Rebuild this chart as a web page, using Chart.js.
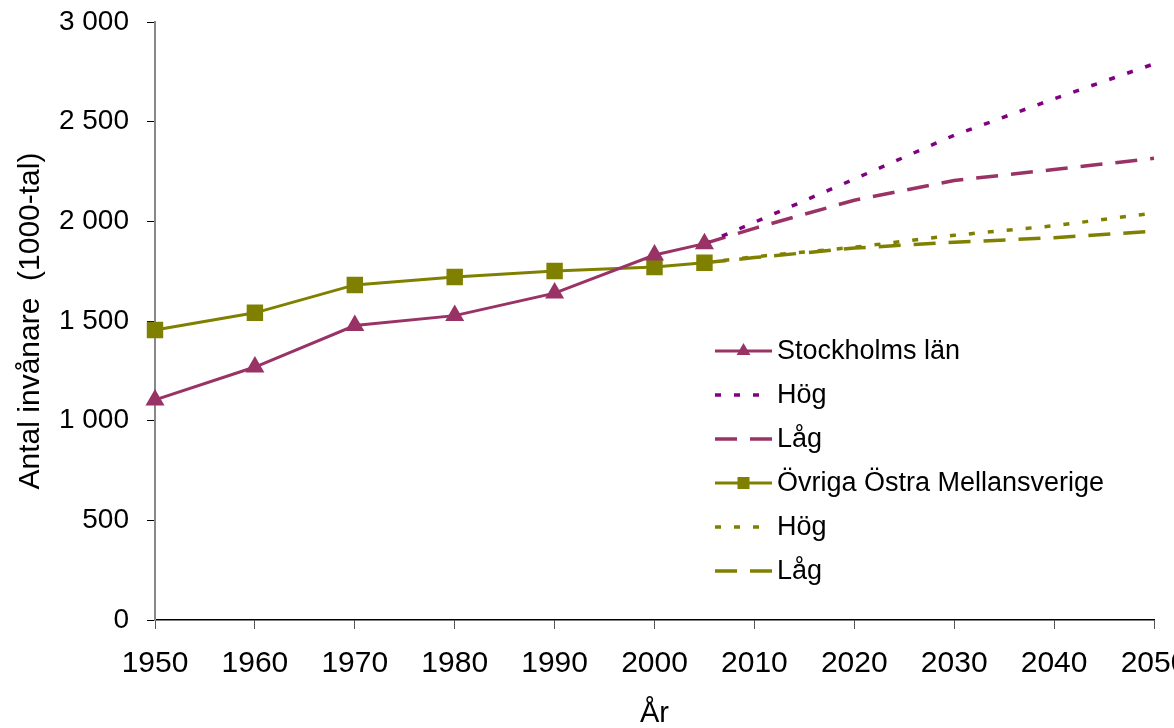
<!DOCTYPE html>
<html>
<head>
<meta charset="utf-8">
<script src="https://cdn.jsdelivr.net/npm/chart.js@4"></script>
<style>
  html, body { margin: 0; padding: 0; background: #fff; overflow: hidden; }
  #wrap { width: 1174px; height: 728px; overflow: hidden; position: relative; }
  #c { display: block; }
</style>
</head>
<body>
<div id="wrap"><canvas id="c" width="1200" height="728"></canvas></div>
<script>
// ---- data ----
const histYears = [1950, 1960, 1970, 1980, 1990, 2000, 2005];
const projYears = [2005, 2010, 2020, 2030, 2040, 2050];

const stockholm     = [1104, 1269, 1477, 1527, 1640, 1831, 1888];
const stockholmHog  = [1888, 1995, 2212, 2432, 2615, 2790];
const stockholmLag  = [1888, 1965, 2106, 2205, 2260, 2316];

const ovriga        = [1455, 1541, 1681, 1721, 1751, 1771, 1792];
const ovrigaHog     = [1792, 1822, 1870, 1930, 1978, 2042];
const ovrigaLag     = [1792, 1818, 1866, 1895, 1918, 1950];

const seriesNames = ['Stockholms län', 'Hög', 'Låg', 'Övriga Östra Mellansverige', 'Hög', 'Låg'];
const yTicks = [0, 500, 1000, 1500, 2000, 2500, 3000];
const xTicks = [1950, 1960, 1970, 1980, 1990, 2000, 2010, 2020, 2030, 2040, 2050];

// ---- styles ----
const C_STH = '#993366';
const C_HOG = '#800080';
const C_OVR = '#808000';
const FONT = '"Liberation Sans", Arial, sans-serif';

const pts = (xs, ys) => xs.map((x, i) => ({ x: x, y: ys[i] }));
const fmt = v => v >= 1000 ? Math.floor(v / 1000) + ' ' + String(v % 1000).padStart(3, '0') : String(v);

const styles = [
  { color: C_STH, dash: [], point: 'triangle' },
  { color: C_HOG, dash: [6, 13], point: false },
  { color: C_STH, dash: [22, 13], point: false },
  { color: C_OVR, dash: [], point: 'rect' },
  { color: C_OVR, dash: [6, 13], point: false },
  { color: C_OVR, dash: [22, 13], point: false },
];

const datasets = [
  { label: seriesNames[0], data: pts(histYears, stockholm), borderColor: C_STH, backgroundColor: C_STH,
    borderWidth: 3, pointStyle: 'triangle', pointRadius: 8, pointHoverRadius: 8, order: 1 },
  { label: seriesNames[1], data: pts(projYears, stockholmHog), borderColor: C_HOG,
    borderWidth: 3.5, borderDash: [6, 13], pointRadius: 0, order: 3 },
  { label: seriesNames[2], data: pts(projYears, stockholmLag), borderColor: C_STH,
    borderWidth: 3.5, borderDash: [22, 13], pointRadius: 0, order: 3 },
  { label: seriesNames[3], data: pts(histYears, ovriga), borderColor: C_OVR, backgroundColor: C_OVR,
    borderWidth: 3, pointStyle: 'rect', pointRadius: 9.5, pointHoverRadius: 9.5, order: 2 },
  { label: seriesNames[4], data: pts(projYears, ovrigaHog), borderColor: C_OVR,
    borderWidth: 3.5, borderDash: [6, 13], pointRadius: 0, order: 3 },
  { label: seriesNames[5], data: pts(projYears, ovrigaLag), borderColor: C_OVR,
    borderWidth: 3.5, borderDash: [22, 13], pointRadius: 0, order: 3 },
];
datasets.forEach(d => { d.fill = false; d.tension = 0; d.clip = false; });

// custom legend drawn inside plot area
const legendPlugin = {
  id: 'customLegend',
  afterDraw(chart) {
    const ctx = chart.ctx;
    const x0 = 715, x1 = 772, tx = 777, y0 = 351, dy = 44;
    ctx.save();
    ctx.font = '27px ' + FONT;
    ctx.textBaseline = 'middle';
    ctx.fillStyle = '#000';
    seriesNames.forEach((name, i) => {
      const s = styles[i];
      const y = y0 + i * dy;
      ctx.save();
      ctx.strokeStyle = s.color;
      ctx.lineWidth = s.dash.length ? 3.5 : 3;
      ctx.setLineDash(s.dash);
      ctx.beginPath();
      ctx.moveTo(x0, y);
      ctx.lineTo(x1, y);
      ctx.stroke();
      ctx.setLineDash([]);
      ctx.fillStyle = s.color;
      const cx = (x0 + x1) / 2;
      if (s.point === 'triangle') {
        const r = 8;
        ctx.beginPath();
        ctx.moveTo(cx, y - r);
        ctx.lineTo(cx + r * 0.866, y + r * 0.5);
        ctx.lineTo(cx - r * 0.866, y + r * 0.5);
        ctx.closePath();
        ctx.fill();
      } else if (s.point === 'rect') {
        ctx.fillRect(cx - 6, y - 6, 12, 12);
      }
      ctx.restore();
      ctx.fillText(name, tx, y + 1);
    });
    ctx.restore();
  }
};

new Chart(document.getElementById('c'), {
  type: 'line',
  data: { datasets: datasets },
  plugins: [legendPlugin],
  options: {
    responsive: false,
    animation: false,
    events: [],
    layout: { padding: { top: 22, right: 46, left: 0, bottom: 0 } },
    plugins: { legend: { display: false }, tooltip: { enabled: false } },
    scales: {
      x: {
        type: 'linear',
        min: 1950, max: 2050,
        afterBuildTicks: s => { s.ticks = xTicks.map(v => ({ value: v })); },
        afterFit: s => { s.height = 108; s.paddingLeft = 0; s.paddingRight = 0; },
        ticks: {
          callback: v => String(v),
          font: { family: FONT, size: 30 },
          color: '#000',
          padding: 17,
          maxRotation: 0,
          autoSkip: false
        },
        grid: { drawOnChartArea: false, drawTicks: true, tickLength: 9, color: '#555', lineWidth: 1 },
        border: { display: true, color: '#000', width: 1.5 },
        title: { display: true, text: 'År', font: { family: FONT, size: 29, lineHeight: 1.0 }, color: '#000', padding: { top: 0, bottom: 0 } }
      },
      y: {
        min: 0, max: 3000,
        afterBuildTicks: s => { s.ticks = yTicks.map(v => ({ value: v })); },
        afterFit: s => { s.width = 155; s.paddingTop = 0; s.paddingBottom = 0; },
        ticks: {
          callback: v => fmt(v),
          font: { family: FONT, size: 28 },
          color: '#000',
          padding: 18
        },
        grid: { drawOnChartArea: false, drawTicks: true, tickLength: 8, color: '#000', lineWidth: 1 },
        border: { display: true, color: '#888', width: 2 },
        title: { display: true, text: 'Antal invånare  (1000-tal)', font: { family: FONT, size: 30 }, color: '#000', padding: { top: 13, bottom: 0 } }
      }
    }
  }
});
</script>
</body>
</html>
